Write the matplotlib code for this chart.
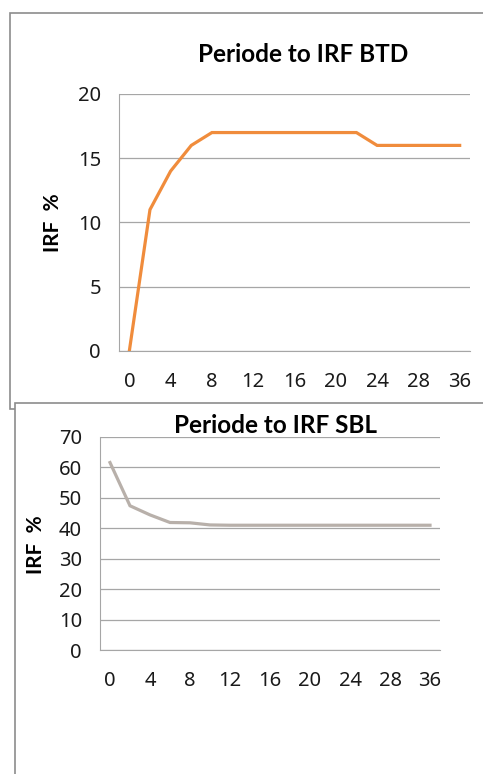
import matplotlib.pyplot as plt
from matplotlib.patches import Rectangle

# periods (categories), labels shown on every other one
periods = [0, 2, 4, 6, 8, 10, 12, 14, 16, 18, 20, 22, 24, 26, 28, 32, 36]
btd = [0, 11, 14, 16, 17, 17, 17, 17, 17, 17, 17, 17, 16, 16, 16, 16, 16]
sbl = [61.6, 47.4, 44.4, 41.9, 41.8, 41.1, 41, 41, 41, 41, 41, 41, 41, 41, 41, 41, 41]

W, H = 483, 774
plt.rcParams['font.family'] = ['Lato', 'DejaVu Sans']

fig = plt.figure(figsize=(W / 100, H / 100), dpi=100)


def px(x0, y0, x1, y1):
    # pixel box -> figure fraction [left, bottom, width, height]
    return [x0 / W, 1 - y1 / H, (x1 - x0) / W, (y1 - y0) / H]


# the two chart frames, like pasted screenshots
frame = '#8c8c8c'
fig.add_artist(Rectangle((10 / W, 1 - 409 / H), 1, (409 - 13) / H, transform=fig.transFigure,
                         facecolor='white', edgecolor=frame, lw=1.2, zorder=-3))
fig.add_artist(Rectangle((15 / W, -0.1), 1, 0.1 + 1 - 403 / H, transform=fig.transFigure,
                         facecolor='white', edgecolor=frame, lw=1.2, zorder=-2))


def draw(ax, vals, color, ymax, step, title, tx, ty, lx, ly):
    x = list(range(len(periods)))
    ax.plot(x, vals, color=color, lw=2.3, solid_joinstyle='miter', zorder=3)
    ax.set_xlim(-0.5, len(periods) - 0.5)
    ax.set_ylim(0, ymax)
    ax.set_yticks(range(0, ymax + 1, step))
    ax.set_xticks(x[::2])
    ax.set_xticklabels([str(p) for p in periods[::2]])
    ax.grid(axis='y', color='#a6a6a6', lw=0.9)
    ax.set_axisbelow(True)
    for s in ['top', 'right']:
        ax.spines[s].set_visible(False)
    ax.spines['left'].set_color('#a6a6a6')
    ax.spines['bottom'].set_color('#a6a6a6')
    ax.tick_params(length=0, labelsize=14.5, colors='#1a1a1a')
    ax.tick_params(axis='y', pad=13)
    ax.tick_params(axis='x', pad=15)
    for lab in ax.get_xticklabels() + ax.get_yticklabels():
        lab.set_family(['Noto Sans', 'DejaVu Sans'])
    ax.patch.set_alpha(0)
    fig.text(tx / W, 1 - ty / H, title, fontsize=17.5, fontweight='bold', ha='center', va='center')
    fig.text(lx / W, 1 - ly / H, 'IRF  %', fontsize=15, fontweight='bold', rotation=90,
             ha='center', va='center')


ax1 = fig.add_axes(px(119, 94, 470, 351))
draw(ax1, btd, '#f08c3c', 20, 5, 'Periode to IRF BTD', 303, 54, 53, 223)

ax2 = fig.add_axes(px(100, 437, 440, 650))
draw(ax2, sbl, '#b8b0aa', 70, 10, 'Periode to IRF SBL', 275, 425, 36, 545)

fig.savefig('out.png', dpi=100)
